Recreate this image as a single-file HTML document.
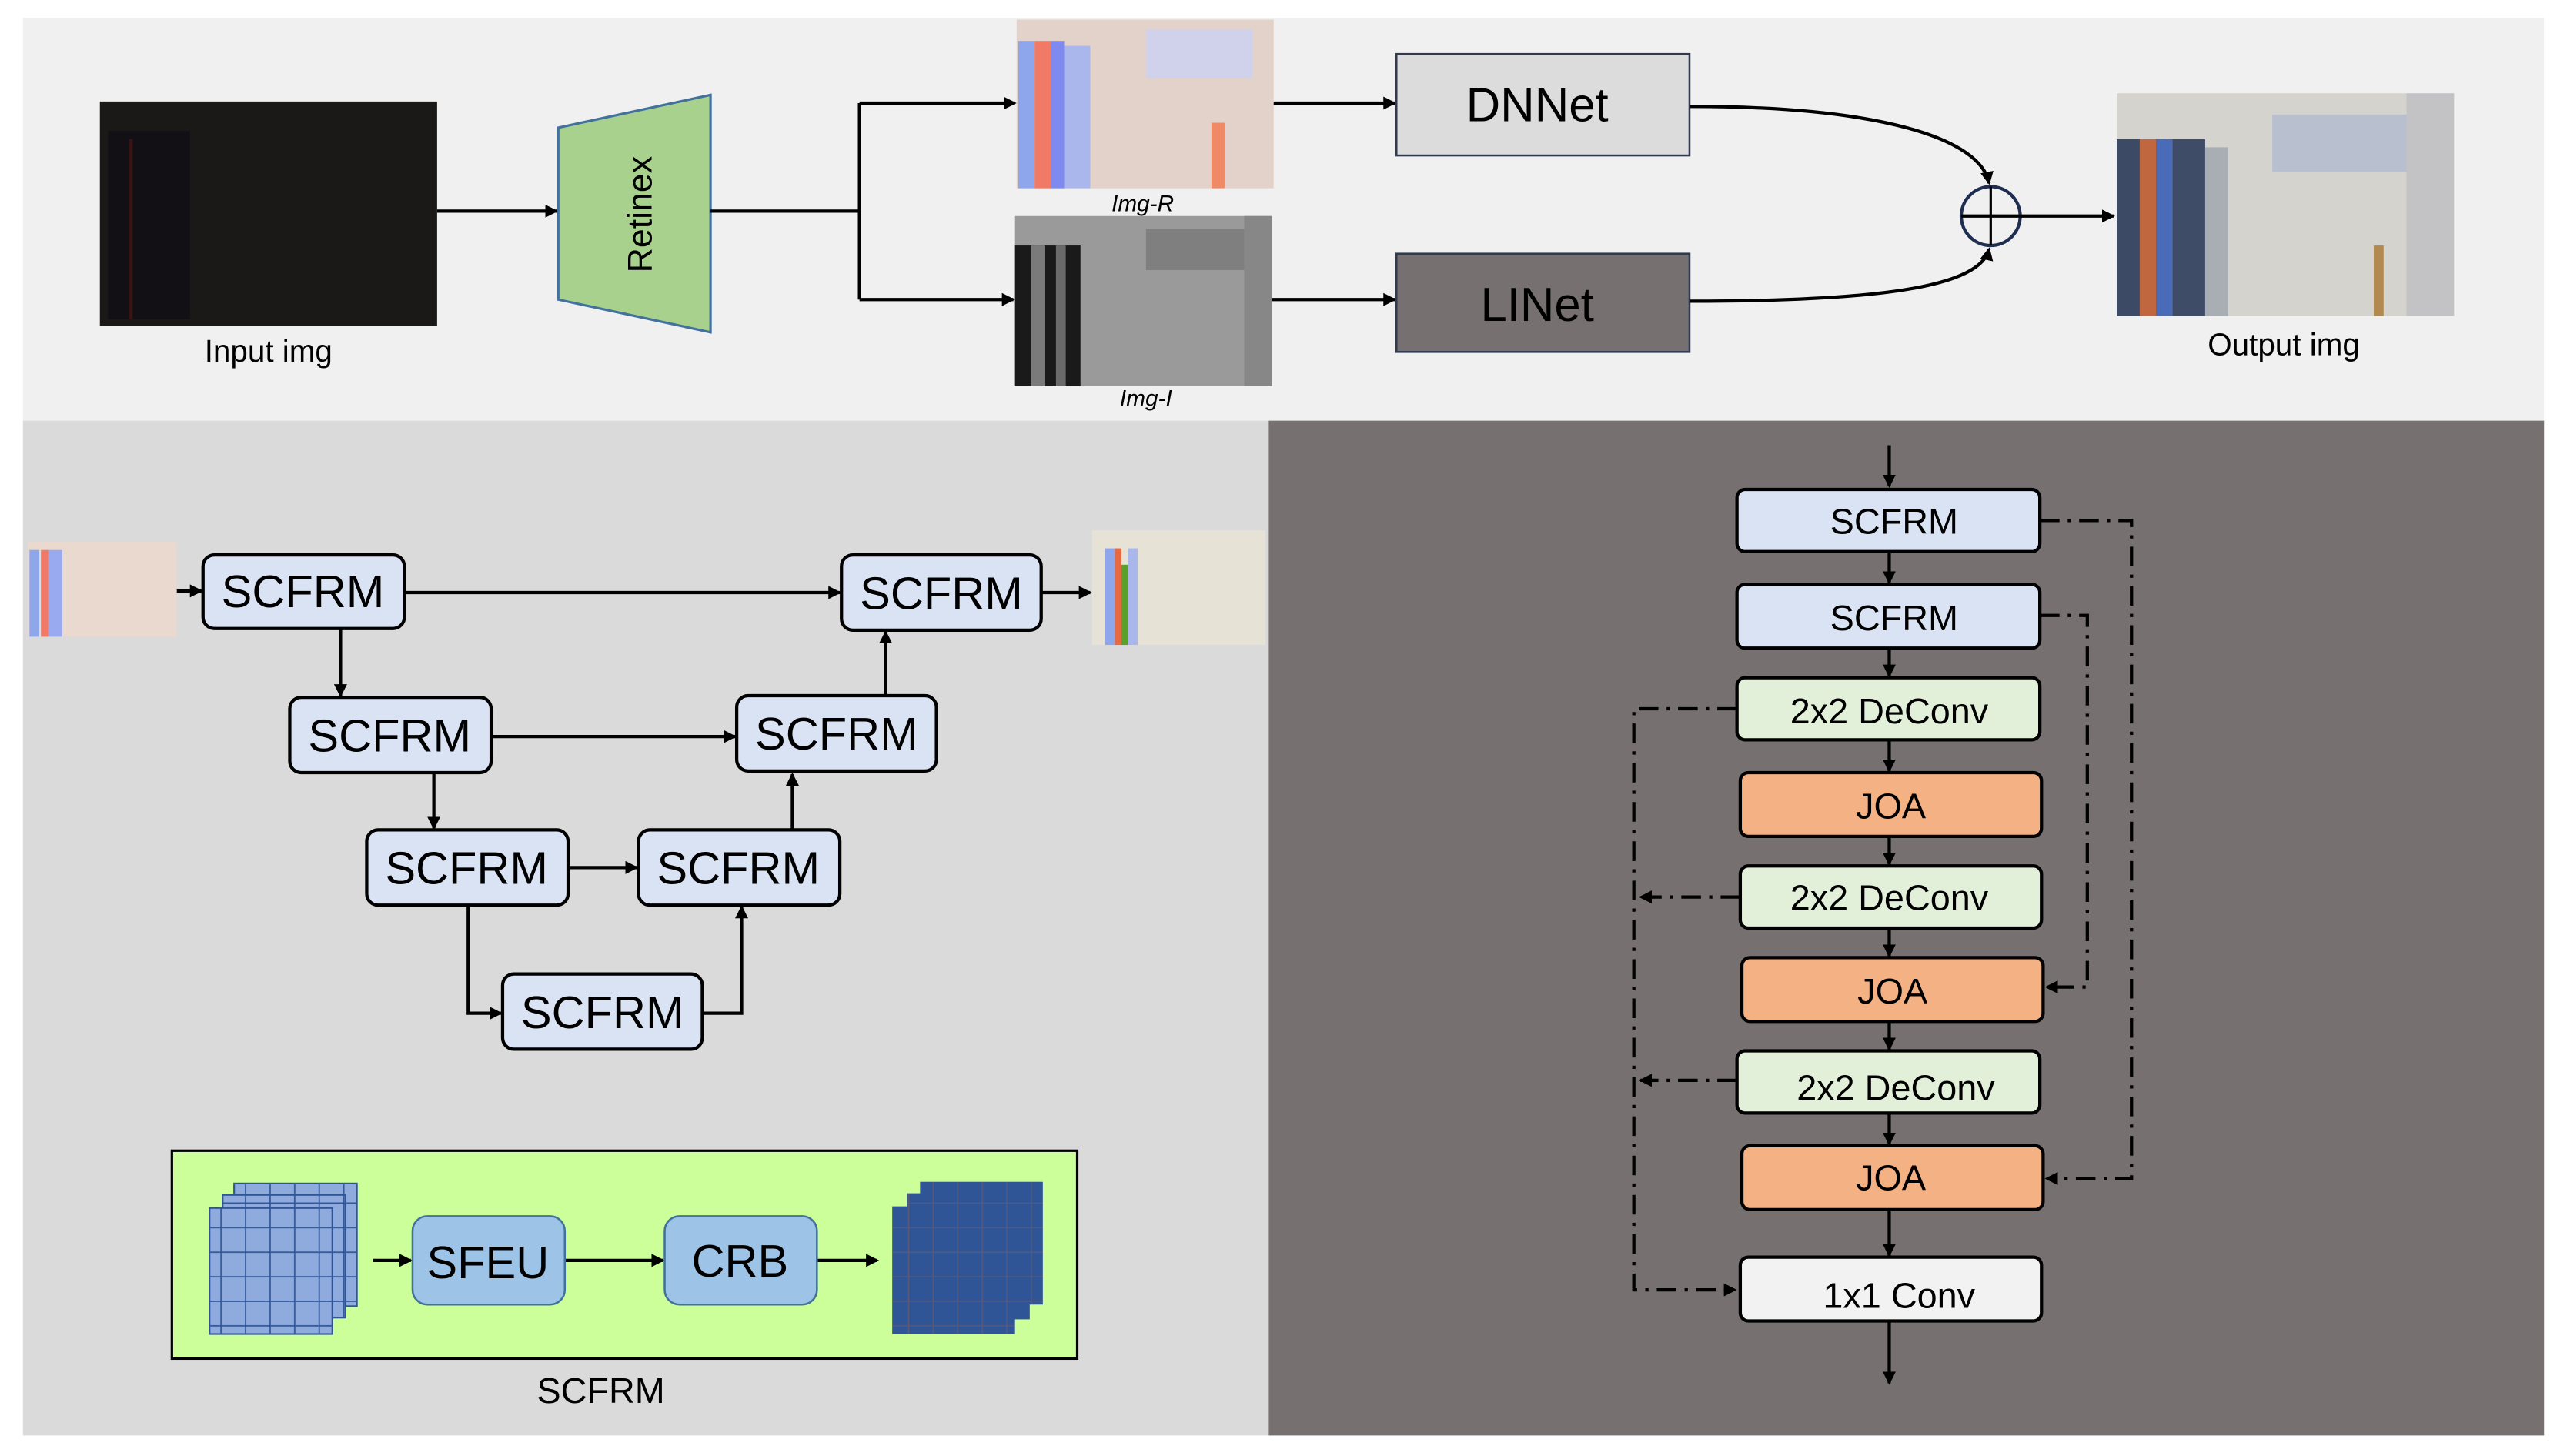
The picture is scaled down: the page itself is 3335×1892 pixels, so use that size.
<!DOCTYPE html>
<html><head><meta charset="utf-8"><style>html,body{margin:0;padding:0;background:#fff}svg{display:block}text{font-family:"Liberation Sans","DejaVu Sans",sans-serif}</style></head>
<body>
<svg width="3335" height="1892" viewBox="0 0 1568 889.5" preserveAspectRatio="none" xmlns="http://www.w3.org/2000/svg">
<defs>
<marker id="a" markerWidth="8" markerHeight="8" refX="7" refY="4" orient="auto" markerUnits="userSpaceOnUse"><path d="M0,0 L8,4 L0,8 Z" fill="#000"/></marker>
<pattern id="gl" width="15" height="15" patternUnits="userSpaceOnUse"><rect width="15" height="15" fill="#8faadc" stroke="#2f5597" stroke-width="0.8"/></pattern>
<pattern id="gd" width="15" height="15" patternUnits="userSpaceOnUse"><rect width="15" height="15" fill="#2f5597" stroke="#5a5a7a" stroke-width="0.6"/></pattern>
</defs>
<rect width="1568" height="889.5" fill="#fff"/>
<rect x="14" y="11" width="1540" height="246" fill="#f0f0f0"/>
<rect x="14" y="257" width="761" height="620" fill="#dadada"/>
<rect x="775" y="257" width="779" height="620" fill="#767070"/>

<!-- input img -->
<rect x="61" y="62" width="206" height="137" fill="#1b1917"/>
<rect x="66" y="80" width="50" height="115" fill="#121014"/>
<line x1="80" y1="85" x2="80" y2="195" stroke="#3a1414" stroke-width="2"/>
<text x="164" y="221" font-size="19" text-anchor="middle">Input img</text>
<line x1="267" y1="129" x2="340" y2="129" stroke="#000" stroke-width="2" marker-end="url(#a)"/>
<polygon points="341,78 434,58 434,203 341,183" fill="#a9d18e" stroke="#41719c" stroke-width="1.5"/>
<text x="0" y="0" font-size="21" text-anchor="middle" transform="translate(398,131) rotate(-90)">Retinex</text>
<polyline points="434,129 525,129" fill="none" stroke="#000" stroke-width="2"/>
<line x1="525" y1="63" x2="525" y2="183" stroke="#000" stroke-width="2"/>
<line x1="525" y1="63" x2="620" y2="63" stroke="#000" stroke-width="2" marker-end="url(#a)"/>
<line x1="525" y1="183" x2="619" y2="183" stroke="#000" stroke-width="2" marker-end="url(#a)"/>

<!-- Img-R -->
<rect x="621" y="12" width="157" height="103" fill="#e3d2c9"/>
<rect x="622" y="25" width="10" height="90" fill="#8ea6ec"/>
<rect x="632" y="25" width="10" height="90" fill="#f07a66"/>
<rect x="642" y="25" width="8" height="90" fill="#7e8af0"/>
<rect x="650" y="28" width="16" height="87" fill="#a9b7ec"/>
<rect x="700" y="18" width="65" height="30" fill="#cfd2ea"/>
<rect x="740" y="75" width="8" height="40" fill="#f08a66"/>
<text x="698" y="129" font-size="14" font-style="italic" text-anchor="middle">Img-R</text>
<!-- Img-I -->
<rect x="620" y="132" width="157" height="104" fill="#9a9a9a"/>
<rect x="620" y="150" width="40" height="86" fill="#1a1a1a"/>
<rect x="630" y="150" width="8" height="86" fill="#7a7a7a"/>
<rect x="645" y="150" width="6" height="86" fill="#6a6a6a"/>
<rect x="700" y="140" width="60" height="25" fill="#7f7f7f"/>
<rect x="760" y="132" width="17" height="104" fill="#878787"/>
<text x="700" y="248" font-size="14" font-style="italic" text-anchor="middle">Img-I</text>
<line x1="778" y1="63" x2="852" y2="63" stroke="#000" stroke-width="2" marker-end="url(#a)"/>
<line x1="777" y1="183" x2="852" y2="183" stroke="#000" stroke-width="2" marker-end="url(#a)"/>
<rect x="853" y="33" width="179" height="62" fill="#dcdcdc" stroke="#2f3a50" stroke-width="1.2"/>
<text x="939" y="74" font-size="29" text-anchor="middle">DNNet</text>
<rect x="853" y="155" width="179" height="60" fill="#767070" stroke="#2f3a50" stroke-width="1.2"/>
<text x="939" y="196" font-size="29" text-anchor="middle">LINet</text>
<path d="M1032,65 C1150,65 1210,85 1215,112" fill="none" stroke="#000" stroke-width="2" marker-end="url(#a)"/>
<path d="M1032,184 C1150,184 1210,175 1215,152" fill="none" stroke="#000" stroke-width="2" marker-end="url(#a)"/>
<circle cx="1216" cy="132" r="18" fill="none" stroke="#1f2d50" stroke-width="2"/>
<line x1="1198" y1="132" x2="1234" y2="132" stroke="#000" stroke-width="2"/>
<line x1="1216" y1="114" x2="1216" y2="150" stroke="#000" stroke-width="1.5"/>
<line x1="1234" y1="132" x2="1291" y2="132" stroke="#000" stroke-width="2" marker-end="url(#a)"/>
<!-- output img -->
<rect x="1293" y="57" width="206" height="136" fill="#d4d3ce"/>
<rect x="1293" y="85" width="30" height="108" fill="#3c4a66"/>
<rect x="1307" y="85" width="10" height="108" fill="#c0673f"/>
<rect x="1317" y="85" width="10" height="108" fill="#4a6cb8"/>
<rect x="1327" y="85" width="20" height="108" fill="#3e4c68"/>
<rect x="1347" y="90" width="14" height="103" fill="#a9adb4"/>
<rect x="1388" y="70" width="90" height="35" fill="#b8bfcf"/>
<rect x="1470" y="57" width="29" height="136" fill="#c3c3c5"/>
<rect x="1450" y="150" width="6" height="43" fill="#b28a4f"/>
<text x="1395" y="217" font-size="19" text-anchor="middle">Output img</text>

<!-- bottom left -->
<rect x="17" y="331" width="91" height="58" fill="#e9d9cf"/>
<rect x="18" y="336" width="6" height="53" fill="#8ea6ec"/>
<rect x="25" y="336" width="5" height="53" fill="#f07a66"/>
<rect x="30" y="336" width="8" height="53" fill="#99aaf0"/>
<rect x="667" y="324" width="106" height="70" fill="#e6e2d6"/>
<rect x="675" y="335" width="6" height="59" fill="#8ea6ec"/>
<rect x="681" y="335" width="4" height="59" fill="#e8693f"/>
<rect x="685" y="345" width="4" height="49" fill="#5aa02c"/>
<rect x="689" y="335" width="6" height="59" fill="#a9b7ec"/>
<g stroke="#000" stroke-width="2" fill="none">
<line x1="108" y1="361" x2="123" y2="361" marker-end="url(#a)"/>
<line x1="247" y1="362" x2="513" y2="362" marker-end="url(#a)"/>
<line x1="636" y1="362" x2="666" y2="362" marker-end="url(#a)"/>
<line x1="208" y1="384" x2="208" y2="425" marker-end="url(#a)"/>
<line x1="300" y1="450" x2="449" y2="450" marker-end="url(#a)"/>
<line x1="541" y1="425" x2="541" y2="386" marker-end="url(#a)"/>
<line x1="265" y1="472" x2="265" y2="506" marker-end="url(#a)"/>
<line x1="347" y1="530" x2="389" y2="530" marker-end="url(#a)"/>
<line x1="484" y1="507" x2="484" y2="473" marker-end="url(#a)"/>
<polyline points="286,553 286,619 306,619" marker-end="url(#a)"/>
<polyline points="429,619 453,619 453,554" marker-end="url(#a)"/>
</g>
<g fill="#dae3f3" stroke="#000" stroke-width="2">
<rect x="124" y="339" width="123" height="45" rx="7"/>
<rect x="514" y="339" width="122" height="46" rx="7"/>
<rect x="177" y="426" width="123" height="46" rx="7"/>
<rect x="450" y="425" width="122" height="46" rx="7"/>
<rect x="224" y="507" width="123" height="46" rx="7"/>
<rect x="390" y="507" width="123" height="46" rx="7"/>
<rect x="307" y="595" width="122" height="46" rx="7"/>
</g>
<g font-size="28" text-anchor="middle">
<text x="185" y="371">SCFRM</text>
<text x="575" y="372">SCFRM</text>
<text x="238" y="459">SCFRM</text>
<text x="511" y="458">SCFRM</text>
<text x="285" y="540">SCFRM</text>
<text x="451" y="540">SCFRM</text>
<text x="368" y="628">SCFRM</text>
</g>
<rect x="105" y="703" width="553" height="127" fill="#ccff99" stroke="#000" stroke-width="1.5"/>
<rect x="143" y="723" width="75" height="75" fill="url(#gl)" stroke="#2f5597"/>
<rect x="136" y="730" width="75" height="75" fill="url(#gl)" stroke="#2f5597"/>
<rect x="128" y="738" width="75" height="77" fill="url(#gl)" stroke="#2f5597"/>
<rect x="562" y="722" width="75" height="75" fill="url(#gd)"/>
<rect x="554" y="729" width="75" height="77" fill="url(#gd)"/>
<rect x="545" y="737" width="75" height="78" fill="url(#gd)"/>
<g stroke="#000" stroke-width="2">
<line x1="228" y1="770" x2="251" y2="770" marker-end="url(#a)"/>
<line x1="345" y1="770" x2="405" y2="770" marker-end="url(#a)"/>
<line x1="499" y1="770" x2="536" y2="770" marker-end="url(#a)"/>
</g>
<rect x="252" y="743" width="93" height="54" rx="9" fill="#9dc3e6" stroke="#41719c" stroke-width="1.2"/>
<rect x="406" y="743" width="93" height="54" rx="9" fill="#9dc3e6" stroke="#41719c" stroke-width="1.2"/>
<text x="298" y="781" font-size="28" text-anchor="middle">SFEU</text>
<text x="452" y="780" font-size="28" text-anchor="middle">CRB</text>
<text x="367" y="857" font-size="22" text-anchor="middle">SCFRM</text>

<!-- right panel -->
<g stroke="#000" stroke-width="2">
<line x1="1154" y1="272" x2="1154" y2="297" marker-end="url(#a)"/>
<line x1="1154" y1="337" x2="1154" y2="356" marker-end="url(#a)"/>
<line x1="1154" y1="396" x2="1154" y2="413" marker-end="url(#a)"/>
<line x1="1154" y1="452" x2="1154" y2="471" marker-end="url(#a)"/>
<line x1="1154" y1="511" x2="1154" y2="528" marker-end="url(#a)"/>
<line x1="1154" y1="567" x2="1154" y2="584" marker-end="url(#a)"/>
<line x1="1154" y1="624" x2="1154" y2="641" marker-end="url(#a)"/>
<line x1="1154" y1="680" x2="1154" y2="699" marker-end="url(#a)"/>
<line x1="1154" y1="739" x2="1154" y2="767" marker-end="url(#a)"/>
<line x1="1154" y1="807" x2="1154" y2="845" marker-end="url(#a)"/>
</g>
<g stroke="#000" stroke-width="2" fill="none" stroke-dasharray="12,5,2,5">
<polyline points="1246,318 1302,318 1302,720 1250,720" marker-end="url(#a)"/>
<polyline points="1246,376 1275,376 1275,603 1250,603" marker-end="url(#a)"/>
<polyline points="1061,433 998,433 998,788 1060,788" marker-end="url(#a)"/>
<polyline points="1063,548 1002,548" marker-end="url(#a)"/>
<polyline points="1061,660 1002,660" marker-end="url(#a)"/>
</g>
<g stroke="#000" stroke-width="2">
<rect x="1061" y="299" width="185" height="38" rx="5" fill="#dae3f3"/>
<rect x="1061" y="357" width="185" height="39" rx="5" fill="#dae3f3"/>
<rect x="1061" y="414" width="185" height="38" rx="5" fill="#e2f0d9"/>
<rect x="1063" y="472" width="184" height="39" rx="5" fill="#f4b183"/>
<rect x="1063" y="529" width="184" height="38" rx="5" fill="#e2f0d9"/>
<rect x="1064" y="585" width="184" height="39" rx="5" fill="#f4b183"/>
<rect x="1061" y="642" width="185" height="38" rx="5" fill="#e2f0d9"/>
<rect x="1064" y="700" width="184" height="39" rx="5" fill="#f4b183"/>
<rect x="1063" y="768" width="184" height="39" rx="5" fill="#f2f2f2"/>
</g>
<g font-size="22" text-anchor="middle">
<text x="1157" y="326">SCFRM</text>
<text x="1157" y="385">SCFRM</text>
<text x="1154" y="442">2x2 DeConv</text>
<text x="1155" y="500">JOA</text>
<text x="1154" y="556">2x2 DeConv</text>
<text x="1156" y="613">JOA</text>
<text x="1158" y="672">2x2 DeConv</text>
<text x="1155" y="727">JOA</text>
<text x="1160" y="799">1x1 Conv</text>
</g>
</svg>
</body></html>
